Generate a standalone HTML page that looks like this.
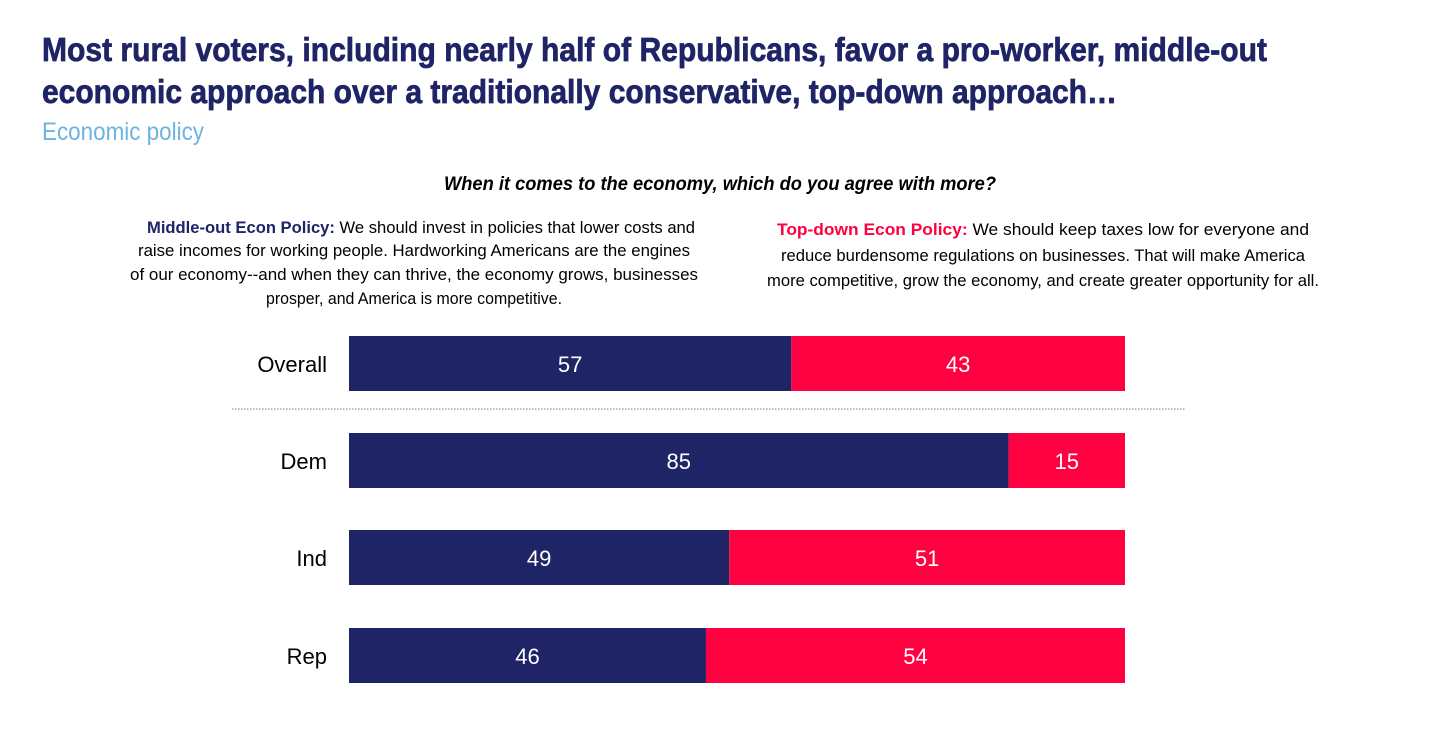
<!DOCTYPE html>
<html><head><meta charset="utf-8">
<style>
html,body{margin:0;padding:0;background:#fff;}
svg{display:block;}
text{font-family:"Liberation Sans Narrow","Liberation Sans",sans-serif;}
</style></head>
<body>
<svg width="1456" height="739" viewBox="0 0 1456 739">
<text x="42" y="61" font-size="33" font-weight="bold" fill="#1e2466" stroke="#1e2466" stroke-width="0.7" textLength="1225" lengthAdjust="spacingAndGlyphs">Most rural voters, including nearly half of Republicans, favor a pro-worker, middle-out</text>
<text x="42" y="103" font-size="33" font-weight="bold" fill="#1e2466" stroke="#1e2466" stroke-width="0.7" textLength="1075" lengthAdjust="spacingAndGlyphs">economic approach over a traditionally conservative, top-down approach…</text>
<text x="42" y="140" font-size="25" fill="#6cb4e0" textLength="162" lengthAdjust="spacingAndGlyphs">Economic policy</text>
<text x="720" y="190" font-size="19" font-weight="bold" font-style="italic" fill="#000" text-anchor="middle" textLength="552" lengthAdjust="spacingAndGlyphs">When it comes to the economy, which do you agree with more?</text>
<g font-size="17" fill="#000" text-anchor="middle">
<text x="421" y="233" textLength="548" lengthAdjust="spacingAndGlyphs"><tspan font-weight="bold" fill="#1e2466">Middle-out Econ Policy:</tspan> We should invest in policies that lower costs and</text>
<text x="414" y="256" textLength="552" lengthAdjust="spacingAndGlyphs">raise incomes for working people. Hardworking Americans are the engines</text>
<text x="414" y="280" textLength="568" lengthAdjust="spacingAndGlyphs">of our economy--and when they can thrive, the economy grows, businesses</text>
<text x="414" y="304" textLength="296" lengthAdjust="spacingAndGlyphs">prosper, and America is more competitive.</text>
</g>
<g font-size="17" fill="#000" text-anchor="middle">
<text x="1043" y="235" textLength="532" lengthAdjust="spacingAndGlyphs"><tspan font-weight="bold" fill="#ff0040">Top-down Econ Policy:</tspan> We should keep taxes low for everyone and</text>
<text x="1043" y="261" textLength="524" lengthAdjust="spacingAndGlyphs">reduce burdensome regulations on businesses. That will make America</text>
<text x="1043" y="286" textLength="552" lengthAdjust="spacingAndGlyphs">more competitive, grow the economy, and create greater opportunity for all.</text>
</g>
<line x1="232" y1="409" x2="1185" y2="409" stroke="#777" stroke-width="1" stroke-dasharray="1.5,1.5"/>
<g id="bars"></g>
</svg>
<script>
const categories = ["Overall","Dem","Ind","Rep"];
const middleOut = [57,85,49,46];
const topDown = [43,15,51,54];
const rowTops = [336,433,530,628];
const x0 = 349, x1 = 1125, barH = 55;
function xs(v){ return x0 + v/100*(x1-x0); }
const NS = "http://www.w3.org/2000/svg";
const g = document.getElementById('bars');
function mk(tag, attrs){ const e=document.createElementNS(NS,tag); for(const k in attrs) e.setAttribute(k,attrs[k]); return e; }
categories.forEach((c,i)=>{
  const y = rowTops[i];
  const lab = mk('text',{x:327,y:y+36,'font-size':22,'text-anchor':'end',fill:'#000'});
  
  
  lab.textContent = c; g.appendChild(lab);
  const wA = xs(middleOut[i]) - x0;
  const rA = mk('rect',{x:x0,y:y,width:wA,height:barH,fill:'#1e2466'});
  
  
  g.appendChild(rA);
  const xb = xs(middleOut[i]);
  const wB = xs(middleOut[i]+topDown[i]) - xb;
  const rB = mk('rect',{x:xb,y:y,width:wB,height:barH,fill:'#ff0040'});
  
  
  g.appendChild(rB);
  const tA = mk('text',{x:x0+wA/2,y:y+36,'font-size':22,'text-anchor':'middle',fill:'#fff'});
  
  
  tA.textContent = middleOut[i]; g.appendChild(tA);
  const tB = mk('text',{x:xb+wB/2,y:y+36,'font-size':22,'text-anchor':'middle',fill:'#fff'});
  
  
  tB.textContent = topDown[i]; g.appendChild(tB);
});
</script>
</body></html>
